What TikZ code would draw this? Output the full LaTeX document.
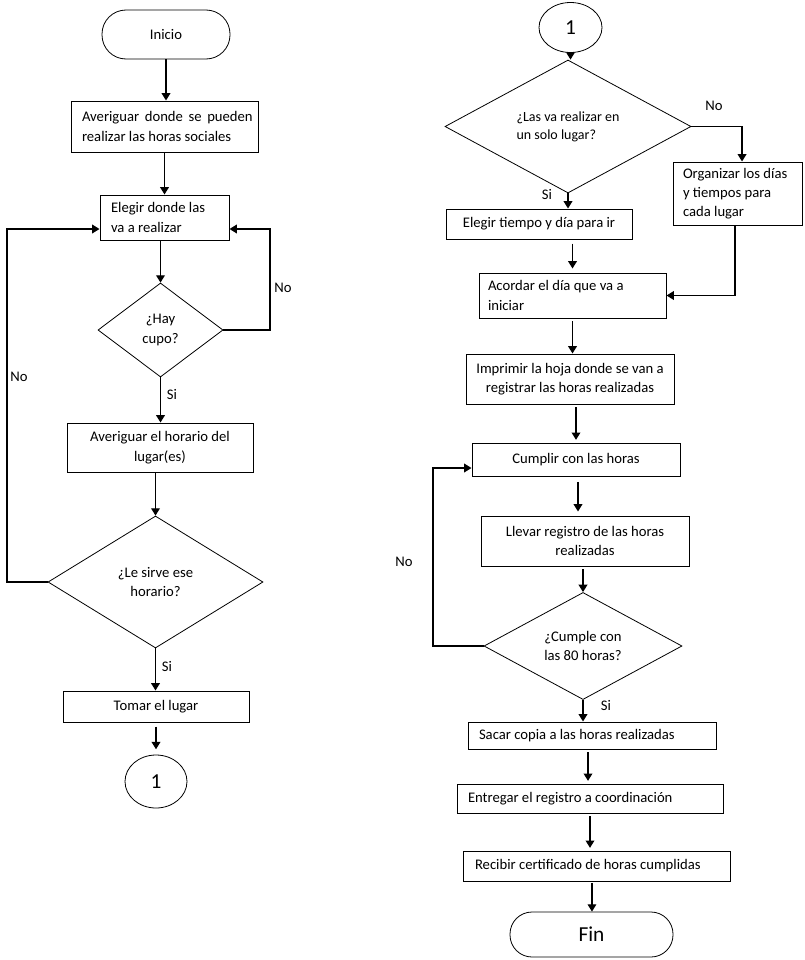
\documentclass[tikz,border=0pt]{standalone}
\usepackage{fontspec}
\setmainfont{Carlito}
\usetikzlibrary{shapes.geometric,arrows.meta,calc}
\newcommand\myind[1]{\hspace*{#1}}
\begin{document}
\begin{tikzpicture}[x=0.75pt,y=-0.75pt,
  every node/.style={font=\fontsize{11pt}{14.5pt}\selectfont},
  box/.style={draw, line width=0.75pt, rectangle, inner sep=0pt, align=center},
  lbox/.style={draw, line width=0.75pt, rectangle, inner xsep=0pt, inner ysep=0pt, align=flush left},
  dia/.style={draw, line width=0.6pt, diamond, inner sep=0pt, align=center},
  term/.style={draw, line width=0.6pt, rectangle, inner sep=0pt},
  conn/.style={draw, line width=0.6pt, ellipse, inner sep=0pt, font=\fontsize{16pt}{18pt}\selectfont},
  arr/.style={line width=1pt, -{Triangle[length=5.5pt,width=6.5pt]}},
  lab/.style={inner sep=0pt}
]
\fill[white] (0,0) rectangle (804,960);
\useasboundingbox (0,0) rectangle (804,960);

% ---------- left column ----------
\node[term, rounded corners=18pt, minimum width=96pt, minimum height=36.75pt] (inicio) at (166,34.5) {Inicio};
\node[lbox, text width=140.25pt, minimum height=38.25pt] (b1) at (164.5,126.5)
  {\myind{8.25pt}\makebox[128pt][s]{Averiguar donde se pueden}\\\myind{8.25pt}realizar las horas sociales};
\node[lbox, text width=96.75pt, minimum height=33.75pt] (b2) at (164.5,217.5)
  {\myind{8.25pt}Elegir donde las\\\myind{8.25pt}va a realizar};
\node[dia, minimum width=93.75pt, minimum height=70.5pt] (d1) at (160.5,330) {¿Hay\\cupo?};
\node[box, minimum width=139.5pt, minimum height=36.75pt] (b3) at (160,447.5) {Averiguar el horario del\\lugar(es)};
\node[dia, minimum width=161.25pt, minimum height=99pt] (d2) at (155.5,582) {¿Le sirve ese\\horario?};
\node[box, minimum width=139.5pt, minimum height=23.25pt] (b4) at (156,706.5) {Tomar el lugar};
\node[conn, minimum width=46.5pt, minimum height=39.75pt] (c1) at (156,781.5) {1};

\coordinate (r1) at (270,229);
\coordinate (l1) at (7,229);

\draw[arr] (inicio.south) -- (inicio.south |- b1.north);
\draw[arr] (b1.south) -- (b1.south |- b2.north);
\draw[arr] (d1.north |- b2.south) -- (d1.north);
\draw[arr] (d1.east) -| (r1) -- (r1 -| b2.east);
\node[lab] (no1) at (283,288) {No};
\draw[arr] (d1.south) -- (d1.south |- b3.north);
\node[lab] (si1) at (172,395) {Si};
\draw[arr] (d2.north |- b3.south) -- (d2.north);
\draw[arr] (d2.west) -| (l1) -- (l1 -| b2.west);
\node[lab] (no2) at (19,377) {No};
\draw[arr] (d2.south) -- (d2.south |- b4.north);
\node[lab] (si2) at (167,666) {Si};
\draw[arr, shorten <=3pt, shorten >=4pt] (b4.south) -- (b4.south |- c1.north);

% ---------- right column ----------
\node[conn, minimum width=47.25pt, minimum height=37.5pt] (c2) at (570.5,27.5) {1};
\node[dia, minimum width=184.5pt, minimum height=66.75pt, align=flush left, font=\fontsize{10.5pt}{13.5pt}\selectfont] (d3) at (568,126.5) {¿Las va realizar en\\un solo lugar?};
\node[lbox, text width=96.75pt, minimum height=47.25pt] (b5) at (737.5,193.5)
  {\myind{7.5pt}Organizar los días\\\myind{7.5pt}y tiempos para\\\myind{7.5pt}cada lugar};
\node[box, minimum width=139.5pt, minimum height=22.5pt] (b6) at (539,224) {Elegir tiempo y día para ir};
\node[lbox, text width=140.25pt, minimum height=33.75pt] (b7) at (572.5,295.5)
  {\myind{6.75pt}Acordar el día que va a\\\myind{6.75pt}iniciar};
\node[box, minimum width=156pt, minimum height=37.5pt] (b8) at (570,379) {Imprimir la hoja donde se van a\\registrar las horas realizadas};
\node[box, minimum width=156pt, minimum height=24.75pt] (b9) at (576,459.5) {Cumplir con las horas};
\node[box, minimum width=156pt, minimum height=37.5pt] (b10) at (585,541) {Llevar registro de las horas\\realizadas};
\node[dia, minimum width=148.5pt, minimum height=66pt] (d4) at (583,646) {¿Cumple con\\las 80 horas?};
\node[lbox, text width=186pt, minimum height=20.25pt] (b11) at (592,735.5) {\myind{8.25pt}Sacar copia a las horas realizadas};
\node[lbox, text width=199.5pt, minimum height=21.75pt] (b12) at (590,798.5) {\myind{8.25pt}Entregar el registro a coordinación};
\node[lbox, text width=200.25pt, minimum height=22.5pt] (b13) at (596.5,866) {\myind{9pt}Recibir certificado de horas cumplidas};
\node[term, rounded corners=16.5pt, minimum width=122.25pt, minimum height=33.75pt, font=\fontsize{16pt}{18pt}\selectfont] (fin) at (591.5,934.5) {Fin};

\coordinate (b5n) at ([xshift=3.4pt]b5.north);
\coordinate (l2) at (433,468);

\draw[arr] (c2.south) -- (c2.south |- d3.north);
\draw[arr] (d3.east) -| (b5n);
\node[lab] (no3) at (714,106) {No};
\draw[arr] (d3.south) -- (d3.south |- b6.north);
\node[lab] (si3) at (547,195) {Si};
\draw[arr, shorten <=3pt, shorten >=3pt] (b7.north |- b6.south) -- (b7.north);
\draw[arr] ([xshift=-1.9pt]b5.south) |- (b7.east);
\draw[arr, shorten <=2pt] (b7.south) -- (b7.south |- b8.north);
\draw[arr, shorten <=2pt, shorten >=2pt] (b9.north |- b8.south) -- (b9.north);
\draw[arr, shorten <=4pt, shorten >=3pt] ([xshift=1.5pt]b9.south) -- ([xshift=1.5pt]b9.south |- b10.north);
\draw[arr, shorten <=2pt] (d4.north |- b10.south) -- (d4.north);
\draw[arr] (d4.west) -| (l2) -- (l2 -| b9.west);
\node[lab] (no4) at (404,562) {No};
\draw[arr] (d4.south) -- (d4.south |- b11.north);
\node[lab] (si4) at (606,705) {Si};
\draw[arr, shorten <=2pt, shorten >=2pt] ([xshift=-3pt]b11.south) -- ([xshift=-3pt]b11.south |- b12.north);
\draw[arr, shorten <=2pt, shorten >=2pt] (b12.south) -- (b12.south |- b13.north);
\draw[arr, shorten <=1pt] ([xshift=-3.4pt]b13.south) -- ([xshift=-3.4pt]b13.south |- fin.north);
\end{tikzpicture}
\end{document}
